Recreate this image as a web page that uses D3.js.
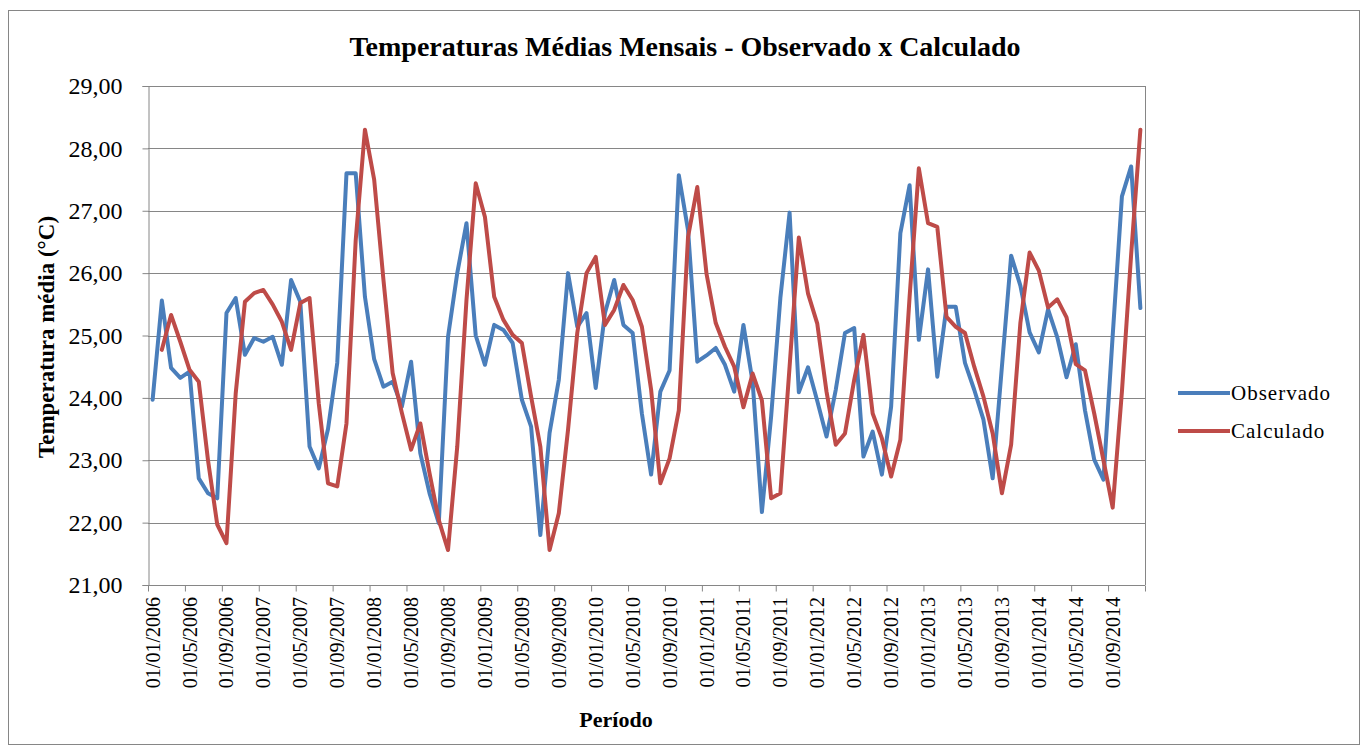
<!DOCTYPE html>
<html>
<head>
<meta charset="utf-8">
<script src="https://cdn.jsdelivr.net/npm/d3@7"></script>
<style>
  html, body { margin: 0; padding: 0; background: #fff; }
  svg { display: block; }
  text { font-family: "Liberation Serif", "Times New Roman", serif; fill: #000; }
</style>
</head>
<body>
<svg id="chart" width="1368" height="753"></svg>
<script>
// ---- data ----
const seriesNames = ["Observado", "Calculado"];
const tickLabels = ["01/01/2006","01/05/2006","01/09/2006","01/01/2007","01/05/2007","01/09/2007",
  "01/01/2008","01/05/2008","01/09/2008","01/01/2009","01/05/2009","01/09/2009",
  "01/01/2010","01/05/2010","01/09/2010","01/01/2011","01/05/2011","01/09/2011",
  "01/01/2012","01/05/2012","01/09/2012","01/01/2013","01/05/2013","01/09/2013",
  "01/01/2014","01/05/2014","01/09/2014"];
const yTicks = [21, 22, 23, 24, 25, 26, 27, 28, 29];
// monthly categories Jan/2006 .. Dec/2014
const categories = d3.timeMonths(new Date(2006, 0, 1), new Date(2015, 0, 1)).map(d3.timeFormat("%d/%m/%Y"));

const observado = [
  23.97, 25.56, 24.48, 24.32, 24.42, 22.71, 22.47, 22.39, 25.36, 25.60, 24.69, 24.96,
  24.90, 24.98, 24.53, 25.89, 25.54, 23.22, 22.87, 23.50, 24.56, 27.60, 27.60, 25.62,
  24.62, 24.18, 24.26, 23.86, 24.58, 23.11, 22.47, 21.99, 24.98, 26.00, 26.80, 25.00,
  24.53, 25.17, 25.09, 24.88, 23.97, 23.54, 21.80, 23.44, 24.29, 26.00, 25.14, 25.36,
  24.16, 25.36, 25.89, 25.17, 25.04, 23.75, 22.77, 24.10, 24.44, 27.57, 26.69, 24.58,
  24.68, 24.80, 24.53, 24.10, 25.17, 24.25, 22.17, 23.70, 25.60, 26.97, 24.09, 24.49,
  23.95, 23.38, 24.13, 25.04, 25.12, 23.06, 23.46, 22.77, 23.86, 26.64, 27.41, 24.93,
  26.06, 24.34, 25.46, 25.46, 24.56, 24.13, 23.65, 22.71, 24.50, 26.28, 25.80, 25.05,
  24.73, 25.42, 24.97, 24.33, 24.86, 23.80, 23.01, 22.69, 25.00, 27.23, 27.71, 25.44
];
const calculado = [
  null,  24.77, 25.33, 24.90, 24.45, 24.26, 23.00, 21.97, 21.67, 24.07, 25.54, 25.68,
  25.73, 25.50, 25.22, 24.77, 25.52, 25.60, 23.91, 22.63, 22.58, 23.59, 26.53, 28.30,
  27.50, 25.90, 24.40, 23.76, 23.17, 23.59, 22.79, 22.04, 21.56, 23.22, 25.57, 27.44,
  26.90, 25.62, 25.25, 25.01, 24.88, 24.02, 23.22, 21.56, 22.15, 23.49, 25.04, 26.00,
  26.26, 25.17, 25.41, 25.81, 25.57, 25.14, 24.13, 22.63, 23.03, 23.80, 26.58, 27.38,
  25.99, 25.20, 24.82, 24.50, 23.85, 24.39, 23.96, 22.39, 22.47, 24.50, 26.57, 25.67,
  25.19, 24.10, 23.25, 23.43, 24.29, 25.01, 23.75, 23.35, 22.74, 23.33, 25.62, 27.68,
  26.80, 26.74, 25.30, 25.14, 25.04, 24.50, 24.02, 23.43, 22.47, 23.25, 25.20, 26.33,
  26.04, 25.45, 25.58, 25.29, 24.54, 24.44, 23.75, 23.00, 22.24, 24.10, 26.30, 28.30
];
const seriesValues = [observado, calculado];
const colors = ["#4A7EBB", "#BE4B48"];

// ---- layout ----
const svg = d3.select("#chart");
const L = 148, R = 1145, T = 86, B = 585;
const gray = "#868686";

svg.append("rect").attr("x", 8.5).attr("y", 10.5).attr("width", 1351).attr("height", 734)
  .attr("fill", "#fff").attr("stroke", gray).attr("stroke-width", 1);

const x = d3.scaleBand().domain(d3.range(categories.length)).range([L, R]);
const xb = d3.scaleLinear().domain([0, categories.length]).range([L, R]);
const y = d3.scaleLinear().domain([21, 29]).range([B, T]);
const cx = i => x(i) + x.bandwidth() / 2;

// gridlines
svg.append("g").selectAll("line").data(yTicks).join("line")
  .attr("x1", L).attr("x2", R)
  .attr("y1", d => Math.round(y(d)) + 0.5).attr("y2", d => Math.round(y(d)) + 0.5)
  .attr("stroke", gray).attr("stroke-width", 1);
// right border of plot
svg.append("line").attr("x1", R + 0.5).attr("x2", R + 0.5).attr("y1", T).attr("y2", B)
  .attr("stroke", gray).attr("stroke-width", 1);

// y axis
const yAxis = svg.append("g").attr("transform", `translate(${L + 0.5},0)`)
  .call(d3.axisLeft(y).tickValues(yTicks).tickSize(6).tickPadding(20)
    .tickFormat(d => d3.format(".2f")(d).replace(".", ",")));
yAxis.selectAll("path, line").attr("stroke", gray);
yAxis.selectAll("text").attr("font-size", 24).attr("font-family", "Liberation Serif");

// x axis ticks (at category boundaries)
const xAxis = svg.append("g").attr("transform", `translate(0,${B + 0.5})`)
  .call(d3.axisBottom(xb).tickValues(d3.range(0, categories.length + 1, 4)).tickSize(6).tickFormat(""));
xAxis.selectAll("path, line").attr("stroke", gray);
xAxis.select("path").attr("d", `M${L},0H${R}`);

// x labels
const labelIdx = d3.range(0, categories.length, 4);
svg.append("g").selectAll("text").data(labelIdx).join("text")
  .attr("transform", i => `translate(${cx(i) + 7},${B + 12}) rotate(-90)`)
  .attr("text-anchor", "end")
  .attr("font-size", 20)
  .text((i, k) => tickLabels[k]);

// lines
const line = d3.line().defined(d => d[1] != null).x(d => cx(d[0])).y(d => y(d[1]));
seriesValues.forEach((vals, s) => {
  svg.append("path")
    .datum(vals.map((v, i) => [i, v]))
    .attr("fill", "none").attr("stroke", colors[s]).attr("stroke-width", 4)
    .attr("stroke-linejoin", "round").attr("stroke-linecap", "round")
    .attr("d", line);
});

// title
svg.append("text").attr("x", 685).attr("y", 56).attr("text-anchor", "middle")
  .attr("font-size", 28).attr("font-weight", "bold")
  .text("Temperaturas Médias Mensais - Observado x Calculado");

// axis titles
svg.append("text").attr("transform", "translate(54,337) rotate(-90)").attr("text-anchor", "middle")
  .attr("font-size", 23).attr("font-weight", "bold").text("Temperatura média (°C)");
svg.append("text").attr("x", 616).attr("y", 727).attr("text-anchor", "middle")
  .attr("font-size", 22).attr("font-weight", "bold").text("Período");

// legend
const leg = svg.append("g").selectAll("g").data(seriesNames).join("g")
  .attr("transform", (d, i) => `translate(1178,${393 + i * 38})`);
leg.append("line").attr("x1", 0).attr("x2", 52).attr("y1", 0).attr("y2", 0)
  .attr("stroke", (d, i) => colors[i]).attr("stroke-width", 4);
leg.append("text").attr("x", 53).attr("y", 7).attr("font-size", 21)
  .attr("letter-spacing", 1).text(d => d);
</script>
</body>
</html>
